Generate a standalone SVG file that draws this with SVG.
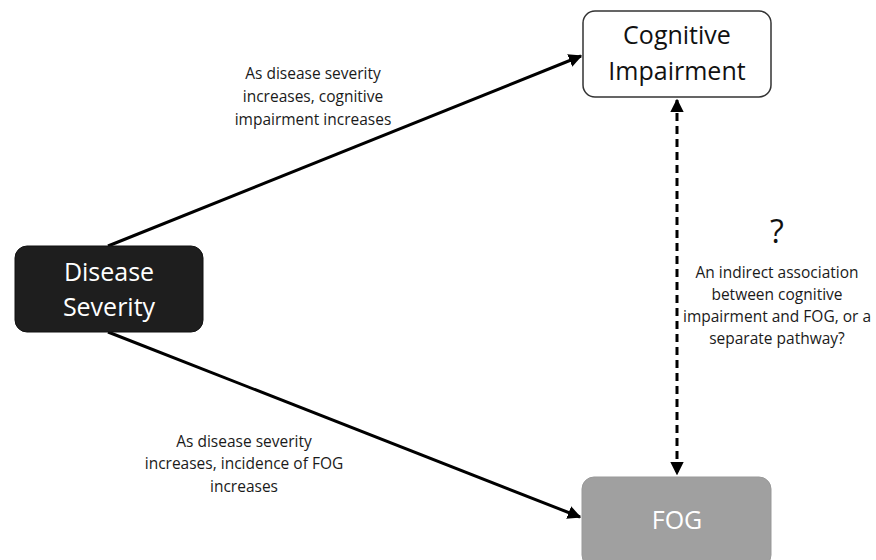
<svg xmlns="http://www.w3.org/2000/svg" width="876" height="560" viewBox="0 0 876 560">
<defs>
<marker id="ah" viewBox="0 0 10 10" refX="9" refY="5" markerWidth="4.5" markerHeight="4.5" orient="auto-start-reverse" markerUnits="strokeWidth">
<path d="M0,0 L10,5 L0,10 z" fill="#000"/>
</marker>
<style>
.lbl{font-family:"Open Sans","Liberation Sans",sans-serif;font-size:15.5px;fill:#1a1a1a;text-anchor:middle}
.big{font-family:"Open Sans","Liberation Sans",sans-serif;font-size:25px;text-anchor:middle}
.edge{stroke:#000;stroke-width:3;fill:none}
</style>
</defs>
<rect width="876" height="560" fill="#fff"/>
<g id="edges">
<line class="edge" x1="108" y1="246" x2="581" y2="56" marker-end="url(#ah)"/>
<line class="edge" x1="108" y1="332" x2="580" y2="517" marker-end="url(#ah)"/>
<line class="edge" x1="677" y1="100" x2="677" y2="474" stroke-dasharray="8,5" marker-start="url(#ah)" marker-end="url(#ah)"/>
</g>
<g id="disease">
<rect x="15" y="246" width="188" height="86" rx="12" fill="#1e1e1e" stroke="#111" stroke-width="1"/>
<text class="big" x="109" y="281" fill="#fff">Disease</text>
<text class="big" x="109" y="316" fill="#fff">Severity</text>
</g>
<g id="cognitive">
<rect x="583" y="11" width="188" height="86" rx="12" fill="#fff" stroke="#333" stroke-width="1.5"/>
<text class="big" x="677" y="44" fill="#111">Cognitive</text>
<text class="big" x="677" y="80" fill="#111">Impairment</text>
</g>
<g id="fog">
<rect x="582" y="477" width="189" height="90" rx="12" fill="#a0a0a0" stroke="#999" stroke-width="1"/>
<text class="big" x="677" y="529" fill="#fff">FOG</text>
</g>
<g id="labels">
<text class="lbl" x="313" y="79">As disease severity</text>
<text class="lbl" x="313" y="102">increases, cognitive</text>
<text class="lbl" x="313" y="125">impairment increases</text>
<text class="lbl" x="244" y="447">As disease severity</text>
<text class="lbl" x="244" y="469">increases, incidence of FOG</text>
<text class="lbl" x="244" y="492">increases</text>
<text class="big" x="777" y="243" fill="#111" style="font-size:32px">?</text>
<text class="lbl" x="777" y="278">An indirect association</text>
<text class="lbl" x="777" y="300">between cognitive</text>
<text class="lbl" x="777" y="322">impairment and FOG, or a</text>
<text class="lbl" x="777" y="344">separate pathway?</text>
</g>
</svg>
